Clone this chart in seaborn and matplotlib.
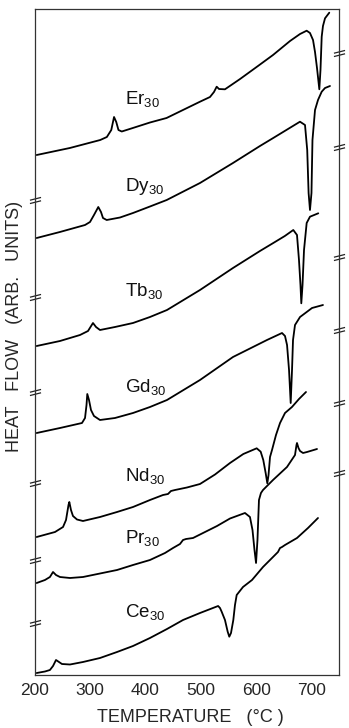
import matplotlib
matplotlib.use("Agg")
import numpy as np
import pandas as pd
import matplotlib.pyplot as plt
from matplotlib.path import Path
from matplotlib import transforms
import seaborn as sns

# DSC traces: temperature (°C) and heat flow (arb. units, each trace offset vertically)
er_t = [203, 263, 318, 330, 338, 343, 347, 351, 357, 377, 408, 438, 498.5, 516.6, 523.8, 528.7, 532.9,
        543.7, 571, 603.4, 630.6, 661.4, 679.5, 691.5, 697.5, 703, 706.6, 710.2, 714.4, 716.5, 718.7,
        721, 724.7, 732.4]
er_q = [520, 527, 535, 538, 545, 558, 553, 545, 543.5, 547, 552.5, 557, 573.3, 578, 583, 588.3, 586,
        585.7, 596, 609, 620, 634, 641, 644.3, 642, 635, 623, 607, 585.7, 605, 638.3,
        649, 656.7, 662.3]

dy_t = [203, 245, 290.5, 299.5, 306.7, 314.5, 319.4, 323, 329.7, 353.8, 377.3, 408, 438.3, 498.5, 558.2,
        607, 631, 679.4, 688.5, 692.5, 695, 697.5, 700.2, 702, 706.6, 712, 718.7, 724.7, 733.7]
dy_q = [437, 443, 450, 453, 460, 468, 463, 457, 455, 457.5, 462, 468.5, 475, 492, 512,
        529, 537, 553.3, 550, 525, 482, 465, 482, 535, 565, 575, 583.3, 587, 589]

tb_t = [203, 245.2, 281.4, 295.9, 304.9, 310.4, 317.6, 344.7, 377.3, 408, 438.8, 498.5, 558.2,
        607, 631.1, 652, 667.3, 674, 677.6, 680.3, 681.8, 684, 686.7, 691.5, 697.5, 712.5]
tb_q = [329, 334, 340, 344, 352, 348, 345, 348, 352, 358, 365, 385, 407,
        424, 432, 439, 445, 440, 415, 390, 371.7, 390, 425, 452, 458.3, 461.7]

gd_t = [203, 245.2, 285, 290.5, 293.2, 294.6, 297.7, 301.3, 306.7, 317.6, 344.7, 377.3, 408, 438.8,
        498.5, 558.2, 619.7, 646.9, 652.3, 656, 659.6, 662.6, 665, 666.8, 670.4, 679.5, 701.2, 721]
gd_q = [242, 247, 252, 257, 270, 281, 275, 265, 259, 255, 257, 262, 268, 275,
        295, 318, 335, 342, 339, 330, 305, 272, 305, 335, 350, 358, 367, 370]

nd_t = [203, 236.2, 250.7, 256.1, 260.6, 262.1, 265.1, 268.7, 276, 286.8, 317.6, 348.4, 377.3, 408,
        431.6, 440.6, 446, 453.3, 474.9, 498.5, 525.7, 552.8, 576.9, 601.1, 608.3, 613, 617.4, 620.3,
        622.5, 625.2, 628.8, 636, 643.3, 652.3, 664.9, 677.6, 690.3]
nd_q = [138, 143, 148, 155, 170, 173, 165, 159, 155.5, 154, 158, 163, 168, 175,
        180, 181, 184, 185, 187.5, 191, 200.5, 212, 221, 226.7, 223.3, 215, 201.7, 191.7,
        200, 218, 225, 240, 252, 262, 268, 276, 283]

pr_t = [203, 218, 227, 232.6, 238, 245.2, 263.3, 286.8, 317.6, 348.4, 377.3, 408, 435.2, 449.7, 462.3,
        467.8, 473.2, 485.9, 507.6, 529.3, 552.8, 579.9, 588.9, 593.5, 597.1, 599.9, 602.5, 605.2,
        608.8, 612.5, 630.6, 655.9, 670.4, 673.1, 674, 676.7, 679.5, 684.9, 692.1, 701.2, 710.2]
pr_q = [92, 95, 98, 103, 100, 98, 97, 98, 101.5, 105, 110, 115, 122, 127, 131,
        135, 136, 137, 143, 149, 156.5, 162, 158, 145, 125, 112, 135, 175,
        182, 185, 195, 208, 220, 230, 232, 227, 224, 222, 223, 224.5, 226]

ce_t = [203, 218, 227, 232.6, 238, 243.4, 248.8, 263.3, 286.8, 317.6, 348.4, 377.3, 408, 438.8, 467.8,
        498.5, 531.3, 534.7, 537.7, 543.7, 548.6, 551.5, 554.6, 558.8, 561.8, 564.9, 576.3, 592.6,
        612.5, 634.2, 639.6, 643.3, 646.9, 652.3, 674, 693.9, 712]
ce_q = [2, 3.5, 5, 9, 15, 13, 11, 10.5, 13, 17, 23, 29, 37, 46, 55,
        62, 69, 67, 63.3, 55, 43.3, 38.3, 42, 55, 70, 80, 88, 95,
        108, 120, 123, 127, 128, 130, 137, 147, 157]

samples = ["Er", "Dy", "Tb", "Gd", "Nd", "Pr", "Ce"]
temps = [er_t, dy_t, tb_t, gd_t, nd_t, pr_t, ce_t]
flows = [er_q, dy_q, tb_q, gd_q, nd_q, pr_q, ce_q]
label_q = [571, 484, 379, 283, 194, 132, 58]

x_ticks = list(range(200, 751, 50))
x_ticklabels = [str(t) if t % 100 == 0 and t <= 700 else "" for t in x_ticks]

# axis-break marks on the left and right frame (heat-flow units)
left_breaks = [475, 378, 283, 192, 115, 52]
right_breaks = [622, 528, 418, 345, 272, 202]

frames = [pd.DataFrame({"T": t, "Q": q, "sample": s}) for s, t, q in zip(samples, temps, flows)]
df = pd.concat(frames, ignore_index=True)

sns.set_style("white")
plt.rcParams["font.family"] = ["Liberation Sans", "DejaVu Sans"]
plt.rcParams["mathtext.fontset"] = "custom"
plt.rcParams["mathtext.rm"] = "Liberation Sans"
plt.rcParams["mathtext.it"] = "Liberation Sans"
plt.rcParams["mathtext.default"] = "regular"

fig = plt.figure(figsize=(3.49, 7.28), dpi=100)
ax = fig.add_axes([35 / 349, 53 / 728, 304 / 349, 666 / 728])

sns.lineplot(data=df, x="T", y="Q", units="sample", estimator=None, sort=False,
             color="black", linewidth=1.3, ax=ax, legend=False)

ax.set_xlim(200, 750)
ax.set_ylim(0, 666)
ax.set_xticks(x_ticks)
ax.set_xticklabels(x_ticklabels, fontsize=12.5)
ax.set_yticks([])
ax.tick_params(axis="x", direction="out", length=4, width=0.9, color="#222222", pad=2)
ax.set_xlabel("")
ax.set_ylabel("")
for sp in ax.spines.values():
    sp.set_color("#333333")
    sp.set_linewidth(0.9)

for s, q in zip(samples, label_q):
    ax.text(362, q, s + r"$_{30}$", fontsize=13.5, ha="left", va="baseline", color="#111111")

# double-slash break symbol
brk = Path([(-1, -0.55), (1, -0.05), (-1, 0.05), (1, 0.55)],
           [Path.MOVETO, Path.LINETO, Path.MOVETO, Path.LINETO])
edge_tr = transforms.blended_transform_factory(ax.transAxes, ax.transData)
ax.plot([0] * len(left_breaks), left_breaks, linestyle="none", marker=brk, markersize=8,
        markeredgewidth=0.9, markeredgecolor="#222222", transform=edge_tr, clip_on=False)
ax.plot([1] * len(right_breaks), right_breaks, linestyle="none", marker=brk, markersize=8,
        markeredgewidth=0.9, markeredgecolor="#222222", transform=edge_tr, clip_on=False)

fig.text(190 / 349, 1 - 718 / 728, "TEMPERATURE   (°C )", fontsize=13, ha="center", va="center")
fig.text(15 / 349, 1 - 326 / 728, "HEAT   FLOW   (ARB.   UNITS)", fontsize=13, rotation=90,
         ha="center", va="center")

fig.savefig("out.png", dpi=100)
